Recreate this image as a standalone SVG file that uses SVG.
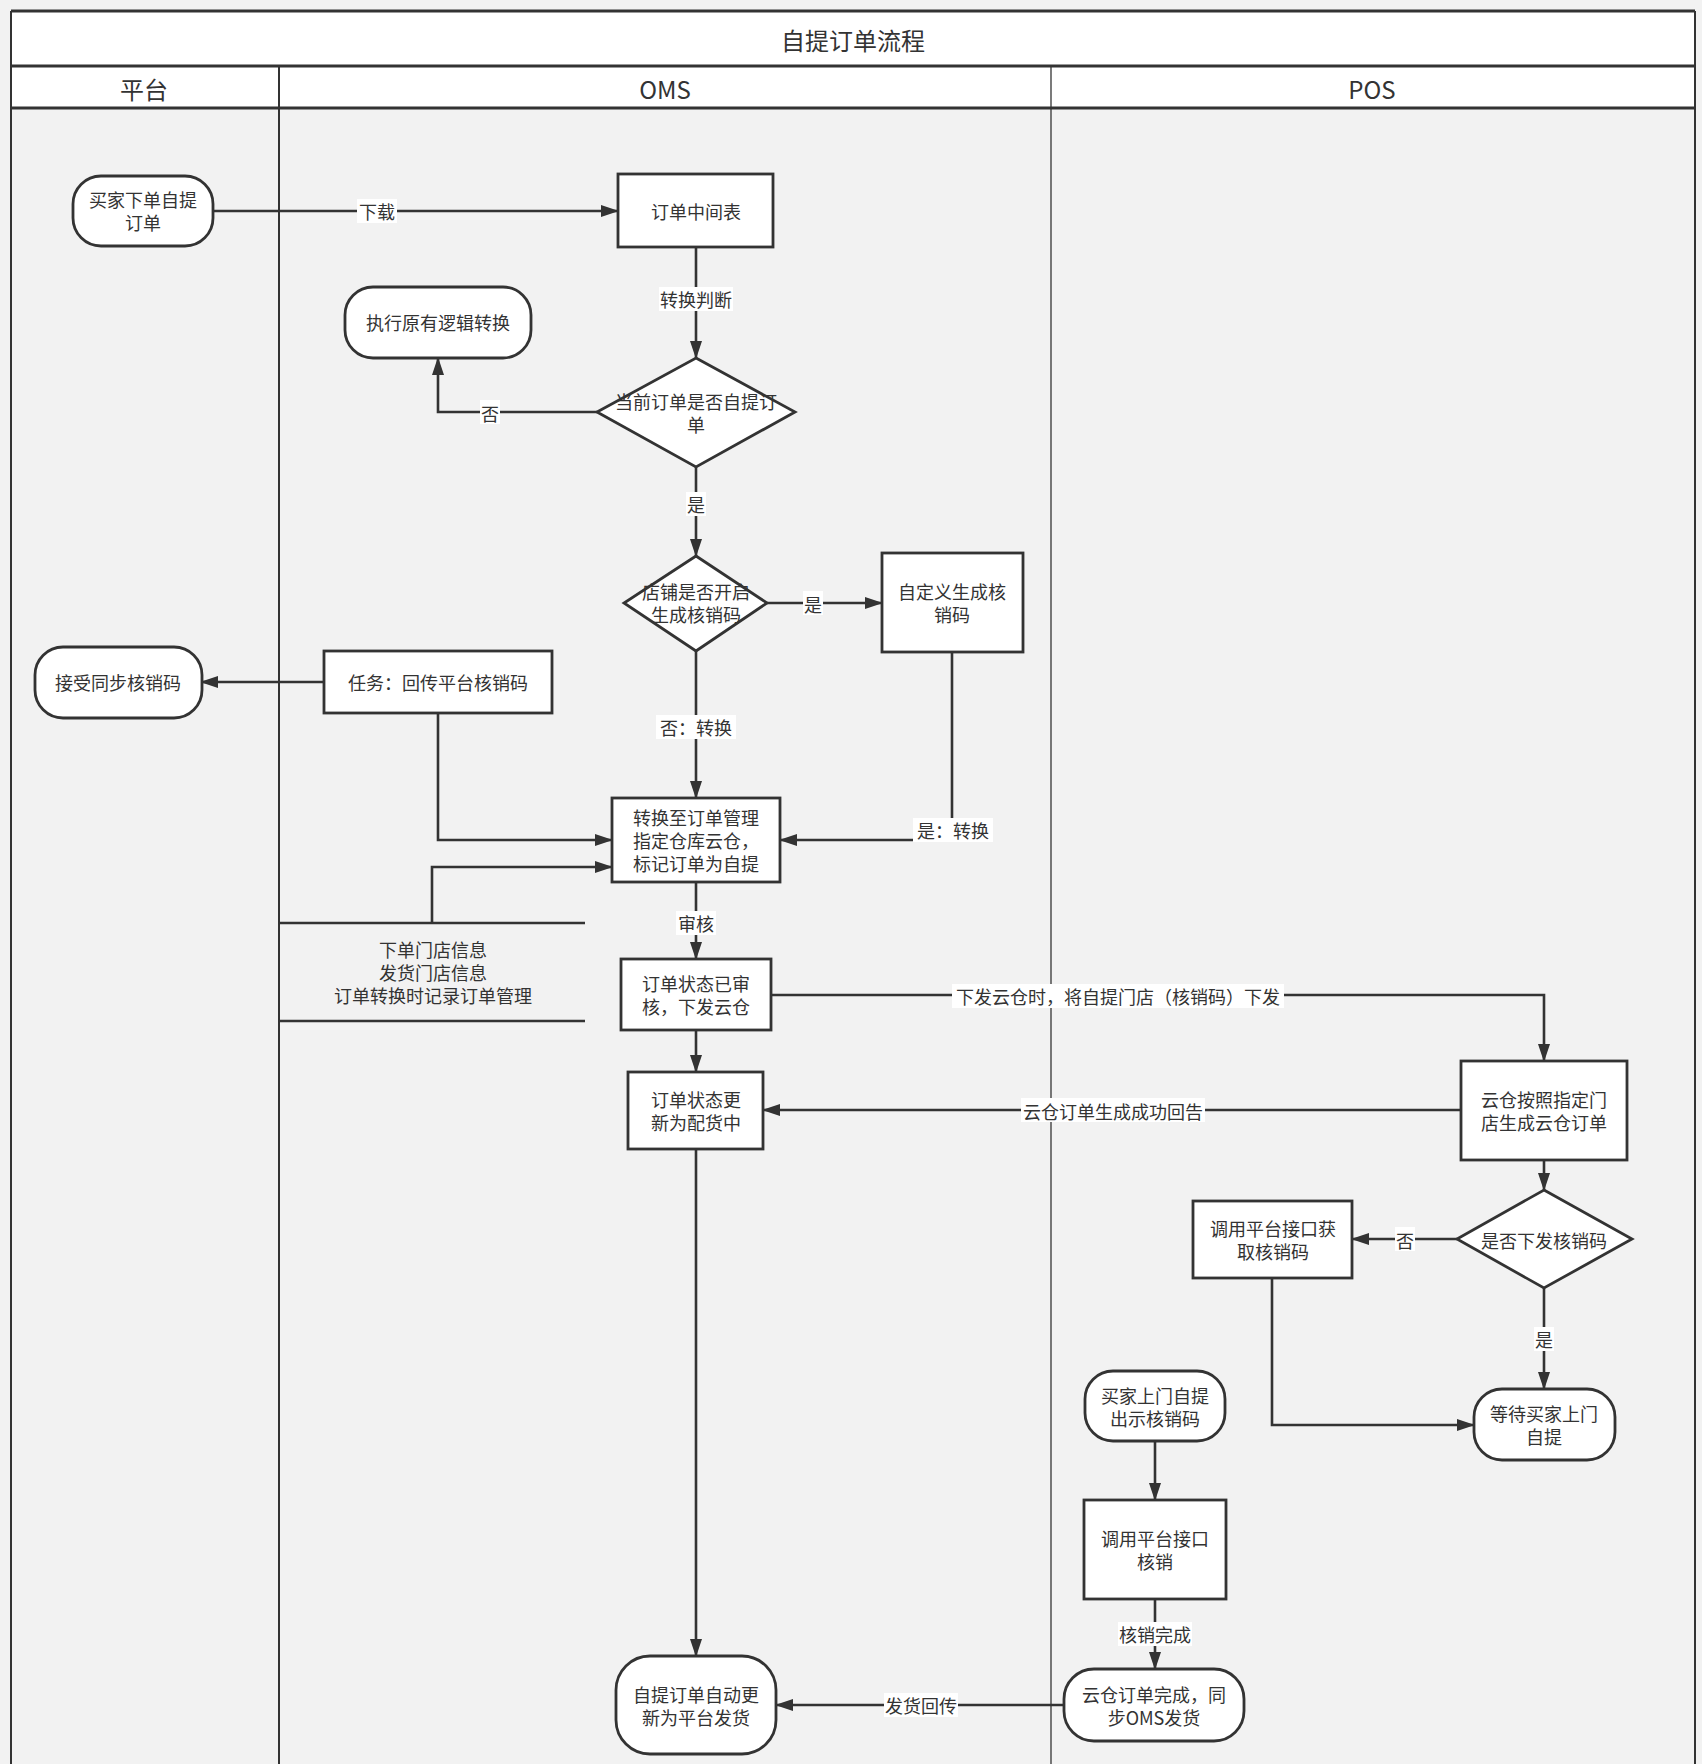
<svg xmlns="http://www.w3.org/2000/svg" width="1702" height="1764" viewBox="0 0 1702 1764">
<style>
text{font-family:"Noto Sans CJK SC","Liberation Sans",sans-serif;fill:#333;font-size:18px;text-anchor:middle;dominant-baseline:central}
.n{fill:#fff;stroke:#333;stroke-width:2.8}
.c{fill:none;stroke:#333;stroke-width:2.6}
.lb{fill:#fff;stroke:none}
.hd{font-size:24px}
</style>
<defs>
<marker id="a" viewBox="0 0 18 12" refX="17" refY="6" markerWidth="18" markerHeight="12" markerUnits="userSpaceOnUse" orient="auto">
<path d="M0,0 L18,6 L0,12 z" fill="#333"/>
</marker>
</defs>
<rect x="0" y="0" width="1702" height="1764" fill="#f2f2f2"/>
<g id="frame">
<rect x="11" y="11" width="1684" height="97" fill="#fff"/>
<line x1="11" y1="11" x2="1695" y2="11" stroke="#333" stroke-width="3"/>
<line x1="11" y1="66" x2="1695" y2="66" stroke="#333" stroke-width="3"/>
<line x1="11" y1="108" x2="1695" y2="108" stroke="#333" stroke-width="3"/>
<line x1="11" y1="11" x2="11" y2="1764" stroke="#333" stroke-width="2"/>
<line x1="1695" y1="11" x2="1695" y2="1764" stroke="#333" stroke-width="2"/>
<line x1="279" y1="66" x2="279" y2="1764" stroke="#333" stroke-width="2"/>
<line x1="1051" y1="66" x2="1051" y2="1764" stroke="#333" stroke-width="1.3"/>
<text x="853" y="39" class="hd">自提订单流程</text>
<text x="144" y="88" class="hd">平台</text>
<text x="665" y="88" class="hd">OMS</text>
<text x="1372" y="88" class="hd">POS</text>
</g>
<g id="connectors">
<path class="c" d="M213,211 H618" marker-end="url(#a)"/>
<path class="c" d="M696,247 V358" marker-end="url(#a)"/>
<path class="c" d="M597,412 H438 V358" marker-end="url(#a)"/>
<path class="c" d="M696,467 V556" marker-end="url(#a)"/>
<path class="c" d="M767,603 H882" marker-end="url(#a)"/>
<path class="c" d="M696,651 V798" marker-end="url(#a)"/>
<path class="c" d="M952,652 V840 H780" marker-end="url(#a)"/>
<path class="c" d="M324,682 H201" marker-end="url(#a)"/>
<path class="c" d="M438,713 V840 H612" marker-end="url(#a)"/>
<path class="c" d="M432,923 V867 H612" marker-end="url(#a)"/>
<path class="c" d="M696,882 V959" marker-end="url(#a)"/>
<path class="c" d="M696,1030 V1072" marker-end="url(#a)"/>
<path class="c" d="M771,995 H1544 V1061" marker-end="url(#a)"/>
<path class="c" d="M1461,1110 H763" marker-end="url(#a)"/>
<path class="c" d="M1544,1160 V1190" marker-end="url(#a)"/>
<path class="c" d="M1457,1239 H1352" marker-end="url(#a)"/>
<path class="c" d="M1544,1288 V1389" marker-end="url(#a)"/>
<path class="c" d="M1272,1278 V1425 H1474" marker-end="url(#a)"/>
<path class="c" d="M1155,1441 V1500" marker-end="url(#a)"/>
<path class="c" d="M1155,1599 V1669" marker-end="url(#a)"/>
<path class="c" d="M1064,1705 H776" marker-end="url(#a)"/>
<path class="c" d="M696,1149 V1656" marker-end="url(#a)"/>
<rect class="lb" x="357" y="199" width="40" height="24"/><text x="377" y="211">下载</text>
<rect class="lb" x="659" y="287" width="74" height="24"/><text x="696" y="299">转换判断</text>
<rect class="lb" x="480" y="400" width="20" height="24"/><text x="490" y="413">否</text>
<rect class="lb" x="686" y="492" width="20" height="24"/><text x="696" y="504">是</text>
<rect class="lb" x="803" y="591" width="20" height="24"/><text x="813" y="604">是</text>
<rect class="lb" x="656" y="715" width="80" height="24"/><text x="696" y="727">否：转换</text>
<rect class="lb" x="913" y="818" width="80" height="24"/><text x="953" y="830">是：转换</text>
<rect class="lb" x="676" y="911" width="40" height="24"/><text x="696" y="923">审核</text>
<rect class="lb" x="952" y="984" width="332" height="24"/><text x="1118" y="996">下发云仓时，将自提门店（核销码）下发</text>
<rect class="lb" x="1021" y="1098" width="184" height="24"/><text x="1113" y="1111">云仓订单生成成功回告</text>
<rect class="lb" x="1395" y="1227" width="20" height="24"/><text x="1405" y="1240">否</text>
<rect class="lb" x="1534" y="1327" width="20" height="24"/><text x="1544" y="1339">是</text>
<rect class="lb" x="1118" y="1622" width="74" height="24"/><text x="1155" y="1634">核销完成</text>
<rect class="lb" x="884" y="1693" width="74" height="24"/><text x="921" y="1705">发货回传</text>
</g>
<g id="annotation">
<line x1="279" y1="923" x2="585" y2="923" stroke="#333" stroke-width="2.5"/>
<line x1="279" y1="1021" x2="585" y2="1021" stroke="#333" stroke-width="2.5"/>
<text x="433" y="949">下单门店信息</text>
<text x="433" y="972">发货门店信息</text>
<text x="433" y="995">订单转换时记录订单管理</text>
</g>
<g id="n1"><rect class="n" x="73" y="176" width="140" height="70" rx="28"/><text x="143" y="199">买家下单自提</text><text x="143" y="222">订单</text></g>
<g id="n2"><rect class="n" x="618" y="174" width="155" height="73"/><text x="696" y="211">订单中间表</text></g>
<g id="n3"><rect class="n" x="345" y="287" width="186" height="71" rx="28"/><text x="438" y="322">执行原有逻辑转换</text></g>
<g id="n4"><path class="n" d="M696,358 L795,412 L696,467 L597,412 Z"/><text x="696" y="401">当前订单是否自提订</text><text x="696" y="424">单</text></g>
<g id="n5"><path class="n" d="M696,556 L767,603 L696,651 L624,603 Z"/><text x="696" y="591">店铺是否开启</text><text x="696" y="614">生成核销码</text></g>
<g id="n6"><rect class="n" x="882" y="553" width="141" height="99"/><text x="952" y="591">自定义生成核</text><text x="952" y="614">销码</text></g>
<g id="n7"><rect class="n" x="35" y="647" width="167" height="71" rx="28"/><text x="118" y="682">接受同步核销码</text></g>
<g id="n8"><rect class="n" x="324" y="651" width="228" height="62"/><text x="438" y="682">任务：回传平台核销码</text></g>
<g id="n9"><rect class="n" x="612" y="798" width="168" height="84"/><text x="696" y="817">转换至订单管理</text><text x="696" y="840">指定仓库云仓，</text><text x="696" y="863">标记订单为自提</text></g>
<g id="n10"><rect class="n" x="621" y="959" width="150" height="71"/><text x="696" y="983">订单状态已审</text><text x="696" y="1006">核，下发云仓</text></g>
<g id="n11"><rect class="n" x="628" y="1072" width="135" height="77"/><text x="696" y="1099">订单状态更</text><text x="696" y="1122">新为配货中</text></g>
<g id="n12"><rect class="n" x="1461" y="1061" width="166" height="99"/><text x="1544" y="1099">云仓按照指定门</text><text x="1544" y="1122">店生成云仓订单</text></g>
<g id="n13"><path class="n" d="M1544,1190 L1632,1239 L1544,1288 L1457,1239 Z"/><text x="1544" y="1240">是否下发核销码</text></g>
<g id="n14"><rect class="n" x="1193" y="1201" width="159" height="77"/><text x="1273" y="1228">调用平台接口获</text><text x="1273" y="1251">取核销码</text></g>
<g id="n15"><rect class="n" x="1474" y="1389" width="141" height="71" rx="28"/><text x="1544" y="1413">等待买家上门</text><text x="1544" y="1436">自提</text></g>
<g id="n16"><rect class="n" x="1085" y="1371" width="140" height="70" rx="28"/><text x="1155" y="1395">买家上门自提</text><text x="1155" y="1418">出示核销码</text></g>
<g id="n17"><rect class="n" x="1084" y="1500" width="142" height="99"/><text x="1155" y="1538">调用平台接口</text><text x="1155" y="1561">核销</text></g>
<g id="n18"><rect class="n" x="1064" y="1669" width="180" height="72" rx="30"/><text x="1154" y="1694">云仓订单完成，同</text><text x="1154" y="1717">步OMS发货</text></g>
<g id="n19"><rect class="n" x="616" y="1656" width="160" height="98" rx="34"/><text x="696" y="1694">自提订单自动更</text><text x="696" y="1717">新为平台发货</text></g>
</svg>
